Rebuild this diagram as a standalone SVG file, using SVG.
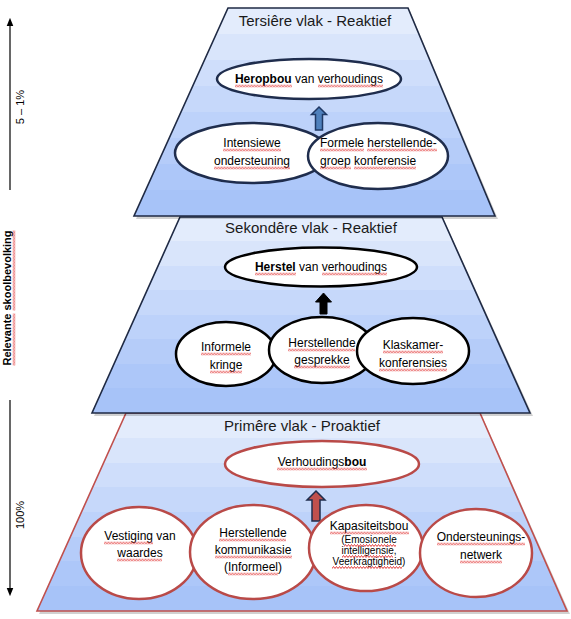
<svg xmlns="http://www.w3.org/2000/svg" width="571" height="619" viewBox="0 0 571 619">
<defs>
<linearGradient id="band" x1="0" y1="0" x2="0" y2="1">
<stop offset="0" stop-color="#e3ecfc"/><stop offset="0.125" stop-color="#e3ecfc"/>
<stop offset="0.125" stop-color="#d9e5fb"/><stop offset="0.25" stop-color="#d9e5fb"/>
<stop offset="0.25" stop-color="#cfdefb"/><stop offset="0.375" stop-color="#cfdefb"/>
<stop offset="0.375" stop-color="#c6d8fa"/><stop offset="0.5" stop-color="#c6d8fa"/>
<stop offset="0.5" stop-color="#bdd2fa"/><stop offset="0.625" stop-color="#bdd2fa"/>
<stop offset="0.625" stop-color="#b5ccf9"/><stop offset="0.75" stop-color="#b5ccf9"/>
<stop offset="0.75" stop-color="#adc7f9"/><stop offset="0.875" stop-color="#adc7f9"/>
<stop offset="0.875" stop-color="#a7c3f8"/><stop offset="1" stop-color="#a7c3f8"/>
</linearGradient>
<pattern id="wv" patternUnits="userSpaceOnUse" width="3" height="3">
<path d="M-1.5,0.5 L0,2.5 L1.5,0.5 L3,2.5 L4.5,0.5" fill="none" stroke="#e02a2a" stroke-width="0.9"/>
</pattern>
<marker id="ah" viewBox="0 0 10 10" refX="5" refY="5" markerWidth="7" markerHeight="7" orient="auto-start-reverse">
<path d="M0,1 L10,5 L0,9 z" fill="#000"/>
</marker>
</defs>
<style>
.shadow{fill:#000;opacity:0.18}
.trap{fill:url(#band);stroke-width:1.6;stroke-linejoin:miter}
.navy{stroke:#1f2a44}
.red{stroke:#c0504d}
.ell{fill:#fff;stroke-width:2.5}
.e3{stroke:#1f2d4d}
.e2{stroke:#000}
.e1{stroke:#b94a48}
.u{fill:url(#wv)}
text{font-family:"Liberation Sans",Arial,sans-serif;fill:#000}
.t{font-size:12px;text-anchor:middle}
.ts{font-size:10px;text-anchor:middle}
.st{text-anchor:start}
.title{font-size:15px;text-anchor:middle;fill:#1a1a1a}
.side{font-size:11px;text-anchor:middle}
</style>

<g id="tier-primary">
<polygon class="shadow" points="128,416 482,416 570,614 39,614"/>
<polygon class="trap red" points="126,413 480,413 567,611 37,611"/>
<text class="title" x="302" y="431">Primêre vlak - Proaktief</text>
</g>
<g id="tier-secondary">
<polygon class="shadow" points="182,220 444,220 533,416 94,416"/>
<polygon class="trap navy" points="180,217 442,217 530,413 92,413"/>
<text class="title" x="311" y="233">Sekondêre vlak - Reaktief</text>
</g>
<g id="tier-tertiary">
<polygon class="shadow" points="230,11 410,11 498,219 136,219"/>
<polygon class="trap navy" points="228,8 408,8 495,216 134,216"/>
<text class="title" x="315" y="26">Tersiêre vlak - Reaktief</text>
</g>

<g id="connectors">
<path d="M319,107 L326.5,114.5 L322.5,114.5 L322.5,130 L315.5,130 L315.5,114.5 L311.5,114.5 Z" fill="#4f81bd" stroke="#1f3864" stroke-width="1.5"/>
<path d="M323.5,293 L331.5,302 L327,302 L327,314 L320,314 L320,302 L315.5,302 Z" fill="#000" stroke="#000" stroke-width="1"/>
<path d="M316,491 L325,500 L320,500 L320,521 L312,521 L312,500 L307,500 Z" fill="#c0504d" stroke="#1f2d4d" stroke-width="1.5"/>
<line x1="10" y1="190" x2="10" y2="22" stroke="#000" stroke-width="1.2" marker-end="url(#ah)"/>
<line x1="10" y1="400" x2="10" y2="592" stroke="#000" stroke-width="1.2" marker-end="url(#ah)"/>
</g>

<g id="side-labels">
<text class="side" transform="translate(24,107) rotate(-90)">5 – 1%</text>
<g transform="translate(11,298) rotate(-90)">
<text class="side" font-weight="bold" x="0" y="0">Relevante skoolbevolking</text>
<rect class="u" transform="translate(-67.5,1.5)" width="52" height="3"/>
<rect class="u" transform="translate(-12.5,1.5)" width="80" height="3"/>
</g>
<text class="side" transform="translate(24,515) rotate(-90)">100%</text>
</g>

<g id="n-heropbou">
<ellipse class="ell e3" cx="309" cy="79" rx="92" ry="20"/>
<text class="t" x="309" y="83"><tspan font-weight="bold">Heropbou</tspan> van verhoudings</text>
<rect class="u" transform="translate(235,84.5)" width="57" height="3"/>
<rect class="u" transform="translate(318,84.5)" width="65" height="3"/>
</g>
<g id="n-intensiewe">
<ellipse class="ell e3" cx="252" cy="153" rx="77" ry="30"/>
<text class="t" x="252" y="147">Intensiewe</text>
<text class="t" x="252" y="165">ondersteuning</text>
<rect class="u" transform="translate(223,148.5)" width="58" height="3"/>
<rect class="u" transform="translate(214,166.5)" width="76" height="3"/>
</g>
<g id="n-formele">
<ellipse class="ell e3" cx="378" cy="156" rx="70" ry="33"/>
<text class="t st" x="320" y="147">Formele herstellende-</text>
<text class="t st" x="320" y="165">groep konferensie</text>
<rect class="u" transform="translate(320,148.5)" width="44" height="3"/>
<rect class="u" transform="translate(367,148.5)" width="70" height="3"/>
<rect class="u" transform="translate(320,166.5)" width="31" height="3"/>
<rect class="u" transform="translate(354,166.5)" width="62" height="3"/>
</g>

<g id="n-herstel">
<ellipse class="ell e2" cx="321" cy="267" rx="96" ry="19.5"/>
<text class="t" x="321" y="271"><tspan font-weight="bold">Herstel</tspan> van verhoudings</text>
<rect class="u" transform="translate(255,272.5)" width="41" height="3"/>
<rect class="u" transform="translate(322,272.5)" width="65" height="3"/>
</g>
<g id="n-informele">
<ellipse class="ell e2" cx="226" cy="354" rx="50" ry="32"/>
<text class="t" x="226" y="351">Informele</text>
<text class="t" x="226" y="369">kringe</text>
<rect class="u" transform="translate(201,352.5)" width="50" height="3"/>
<rect class="u" transform="translate(210,370.5)" width="32" height="3"/>
</g>
<g id="n-gesprekke">
<ellipse class="ell e2" cx="322" cy="350" rx="53" ry="33"/>
<text class="t" x="322" y="347">Herstellende</text>
<text class="t" x="322" y="364">gesprekke</text>
<rect class="u" transform="translate(288,348.5)" width="67" height="3"/>
<rect class="u" transform="translate(294,365.5)" width="56" height="3"/>
</g>
<g id="n-klaskamer">
<ellipse class="ell e2" cx="413" cy="351" rx="56" ry="33"/>
<text class="t" x="413" y="349">Klaskamer-</text>
<text class="t" x="413" y="367">konferensies</text>
<rect class="u" transform="translate(383,350.5)" width="60" height="3"/>
<rect class="u" transform="translate(379,368.5)" width="68" height="3"/>
</g>

<g id="n-verhoudingsbou">
<ellipse class="ell e1" cx="322" cy="464" rx="97" ry="23"/>
<text class="t" x="322" y="466">Verhoudings<tspan font-weight="bold">bou</tspan></text>
<rect class="u" transform="translate(277,467.5)" width="90" height="3"/>
</g>
<g id="n-vestiging">
<ellipse class="ell e1" cx="139" cy="553" rx="58" ry="46"/>
<text class="t" x="140" y="540">Vestiging van</text>
<text class="t" x="140" y="557">waardes</text>
<rect class="u" transform="translate(104,541.5)" width="49" height="3"/>
<rect class="u" transform="translate(117,558.5)" width="45" height="3"/>
</g>
<g id="n-kommunikasie">
<ellipse class="ell e1" cx="253" cy="552" rx="63" ry="47"/>
<text class="t" x="253" y="537">Herstellende</text>
<text class="t" x="253" y="554">kommunikasie</text>
<text class="t" x="253" y="571">(Informeel)</text>
<rect class="u" transform="translate(219,538.5)" width="67" height="3"/>
<rect class="u" transform="translate(215,555.5)" width="77" height="3"/>
<rect class="u" transform="translate(228,572.5)" width="50" height="3"/>
</g>
<g id="n-kapasiteit">
<ellipse class="ell e1" cx="366" cy="548" rx="57" ry="43"/>
<text class="t" x="369" y="530">Kapasiteitsbou</text>
<text class="ts" x="369" y="543">(Emosionele</text>
<text class="ts" x="369" y="554">intelligensie,</text>
<text class="ts" x="369" y="565">Veerkragtigheid)</text>
<rect class="u" transform="translate(330,531.5)" width="79" height="3"/>
<rect class="u" transform="translate(344,544)" width="52" height="3"/>
<rect class="u" transform="translate(342,555)" width="51" height="3"/>
<rect class="u" transform="translate(332,566)" width="70" height="3"/>
</g>
<g id="n-ondersteuning">
<ellipse class="ell e1" cx="476" cy="553" rx="56" ry="44"/>
<text class="t" x="481" y="541">Ondersteunings-</text>
<text class="t" x="481" y="559">netwerk</text>
<rect class="u" transform="translate(437,542.5)" width="88" height="3"/>
<rect class="u" transform="translate(460,560.5)" width="42" height="3"/>
</g>
</svg>
